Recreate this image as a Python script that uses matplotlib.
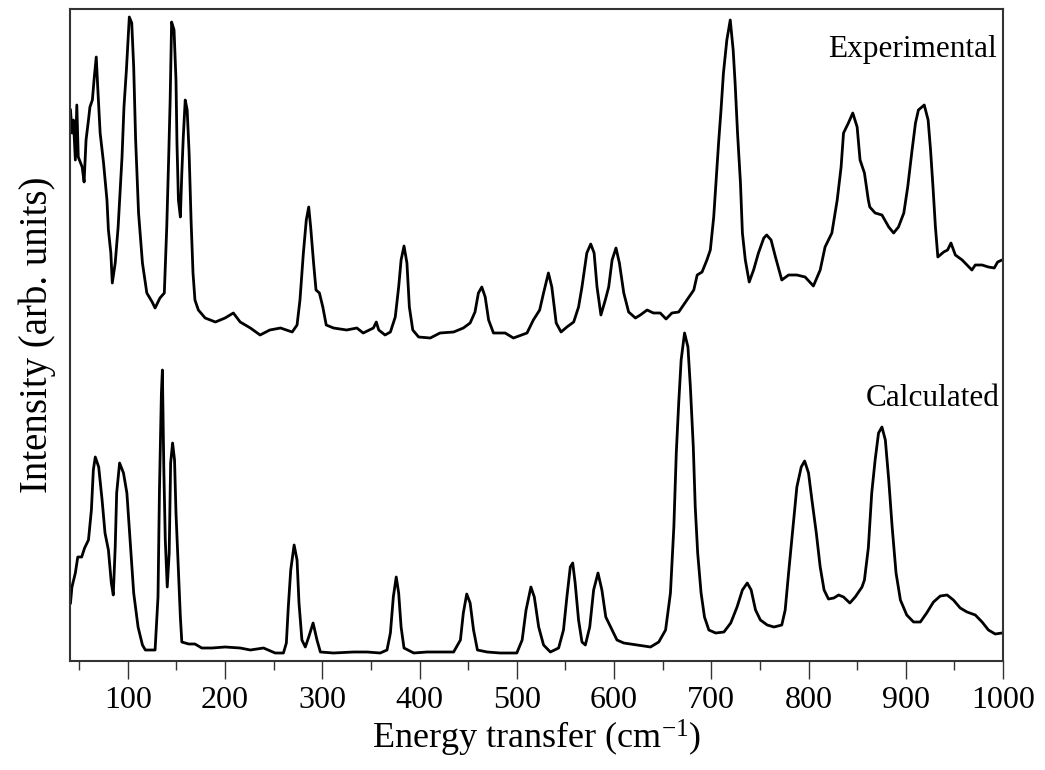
import matplotlib
matplotlib.use("Agg")
import matplotlib.pyplot as plt
from matplotlib.ticker import MultipleLocator, NullLocator

plt.rcParams['font.family'] = ['Liberation Serif', 'DejaVu Serif']
plt.rcParams['mathtext.fontset'] = 'custom'
plt.rcParams['mathtext.rm'] = 'Liberation Serif'
plt.rcParams['mathtext.it'] = 'Liberation Serif:italic'

# Experimental spectrum (energy transfer in cm^-1, intensity in arb. units)
exp_x = [41, 42.6, 44, 46, 47.5, 49, 53, 55, 57, 59.5, 61, 63.5, 65.5, 67.5, 69, 71.5, 75, 78.5, 80,
         82.5, 84, 87, 90, 94, 96, 98.5, 101.5, 104, 106, 108, 111, 115, 119.5, 125, 128, 133, 137.5,
         140, 142, 143.5, 145, 147.5, 149.5, 150.5, 152, 154, 155.5, 157, 159, 161, 163, 165, 167, 169,
         172.5, 179.5, 190, 200, 208.5, 215.5, 226, 236, 246, 257, 269, 274, 277, 280.5, 283.5, 286, 288,
         291, 293.5, 297, 300.5, 304, 311.5, 325, 335.5, 342, 352.5, 355.5, 358, 364.5, 370, 375, 378.5,
         381, 384, 387, 389.5, 393, 399, 411, 421, 435, 445, 452, 457, 460.5, 464, 467.5, 471, 476, 488,
         496.5, 510.5, 517, 523.5, 527.5, 532.5, 536, 540.5, 545.5, 551.5, 558.5, 563.5, 567, 572, 576,
         579.5, 582.5, 586.5, 591, 594.5, 598, 602, 605.5, 610, 615, 622, 627, 634, 640.5, 647.5, 653.5,
         659.5, 666.5, 675, 682, 685.5, 690.5, 695.5, 699, 702.5, 705, 707.5, 710, 712.5, 716, 719.5,
         722.5, 724.5, 727, 730, 732, 735, 739, 743.5, 748.5, 754, 757, 761.5, 766, 772.5, 779.5, 788,
         796.5, 805, 812, 817, 824, 829.5, 833.5, 836, 841, 845.5, 850, 853, 857.5, 861.5, 863, 868.5,
         875.5, 882.5, 887.5, 892.5, 898, 902, 906.5, 910, 913, 919, 923, 925.5, 928, 930.5, 933, 939,
         943, 946.5, 951, 958, 963, 968, 971.5, 978.5, 985, 991, 994.5, 999]
exp_y = [551, 528, 541, 501, 556, 504, 494, 479, 521, 541, 554, 561, 584, 604, 574, 528, 498, 461, 431,
         408, 378, 398, 434, 504, 554, 591, 644, 638, 594, 521, 448, 398, 368, 359, 353, 363, 368,
         434, 504, 561, 639, 631, 581, 518, 461, 444, 488, 524, 561, 551, 508, 441, 388, 361,
         351, 343, 339, 343, 348, 339, 333, 326, 331, 333, 329, 336, 361, 408, 441, 454, 434,
         398, 371, 368, 354, 336, 333, 331, 333, 328, 333, 339, 331, 326, 329, 344, 374,
         401, 415, 398, 354, 331, 324, 323, 328, 329, 333, 338, 349, 368, 374, 364, 341, 328, 328,
         323, 328, 341, 351, 368, 388, 374, 338, 329, 334, 339, 354, 374, 408, 417,
         408, 374, 346, 361, 374, 401, 413, 398, 368, 349, 343, 346, 351, 348, 348, 342,
         348, 349, 361, 371, 386, 389, 401, 411, 444, 481, 518, 551, 588, 621, 641,
         611, 578, 528, 478, 428, 401, 379, 391, 408, 423, 426, 421, 404, 381, 386, 386,
         384, 375, 391, 414, 428, 461, 494, 528, 538, 548, 534, 501, 488, 461, 454, 448,
         446, 434, 428, 434, 448, 474, 511, 538, 551, 556, 541, 511, 474, 434, 404, 409,
         411, 418, 406, 401, 396, 391, 396, 396, 394, 393, 399, 401]

# Calculated spectrum
calc_x = [41, 42.5, 46, 48.5, 52.5, 55.5, 59.5, 62.5, 64.5, 66.5, 70, 73.5, 76.5, 80, 83, 85, 87, 88.5,
          91.5, 95.5, 99, 102.5, 106, 110.5, 115, 118, 128, 131, 132.5, 134.5, 135.5, 137, 138.5, 140.5,
          142.5, 144, 146, 148, 149.5, 152, 154, 155.5, 162.5, 169, 176, 186.5, 200, 215.5, 226, 239.5,
          251.5, 260, 263, 265, 267.5, 271, 274, 276, 279, 282.5, 286, 290.5, 294.5, 298, 311.5, 332,
          346, 359.5, 366.5, 370, 373, 376, 378.5, 381, 384, 394, 407.5, 421, 435, 442, 445, 448.5, 452,
          455.5, 459.5, 469.5, 483, 500, 505.5, 509.5, 514.5, 518, 522.5, 527.5, 534.5, 543, 548, 551.5,
          555, 557.5, 560, 563.5, 567, 570.5, 575, 579, 583.5, 587.5, 591.5, 597, 603, 610, 623.5, 637.5,
          646, 653, 658, 661.5, 664, 666.5, 669, 672.5, 676, 678.5, 681.5, 683.5, 686, 689.5, 693, 697.5,
          704.5, 713, 720, 726.5, 732, 737, 741, 745.5, 750.5, 757.5, 764.5, 772.5, 776, 779.5, 784, 788,
          792.5, 796, 800, 803.5, 808, 812, 816, 820.5, 826, 831, 836, 842.5, 848, 855, 857.5, 861.5,
          865, 868.5, 872, 875.5, 879, 882.5, 886, 890, 894.5, 901, 908, 915, 921.5, 928.5, 935.5, 942.5,
          949, 956, 963, 971.5, 978.5, 985, 992, 999]
calc_y = [58, 74, 88, 104, 104, 113, 121, 151, 191, 204, 194, 161, 128, 111, 78, 66, 114, 168,
          198, 188, 168, 118, 68, 34, 16, 11, 11, 64, 171, 268, 291, 191, 121, 74,
          108, 198, 218, 201, 148, 91, 44, 19, 17, 17, 13, 13, 14, 13, 11, 13,
          8, 8, 18, 54, 91, 116, 101, 58, 21, 14, 24, 38, 21, 9, 8, 9,
          9, 8, 11, 28, 64, 84, 68, 34, 13, 8, 9, 9, 9, 21, 48, 67, 58,
          31, 11, 9, 8, 8, 21, 51, 74, 64, 34, 16, 9, 13, 31, 64,
          94, 98, 78, 41, 19, 16, 34, 71, 88, 71, 44, 33, 21, 18, 16, 14,
          19, 31, 68, 134, 208, 258, 301, 328, 314, 274, 214, 154, 108, 68, 44, 31,
          28, 29, 38, 54, 71, 78, 71, 51, 41, 36, 34, 36, 51, 88, 134, 174,
          194, 200, 188, 161, 128, 94, 71, 62, 63, 66, 64, 58, 64, 74, 81, 113,
          168, 201, 228, 234, 221, 181, 134, 88, 61, 46, 39, 39, 48, 59, 65, 66,
          61, 53, 49, 46, 39, 31, 27, 28]

fig = plt.figure(figsize=(10.45, 7.7), dpi=100)
ax = fig.add_axes([70/1045, 1 - 661/770, 933/1045, 652/770])

ax.plot(exp_x, exp_y, color='black', lw=2.0, solid_joinstyle='round')
ax.plot(calc_x, calc_y, color='black', lw=2.0, solid_joinstyle='round')

ax.set_xlim(40.5, 1000)
ax.set_ylim(0, 652)

ax.xaxis.set_major_locator(MultipleLocator(100))
ax.xaxis.set_minor_locator(MultipleLocator(50))
ax.yaxis.set_major_locator(NullLocator())
ax.yaxis.set_minor_locator(NullLocator())
ax.tick_params(axis='x', which='major', direction='out', length=13, width=1.0,
               labelsize=23, pad=5, color='#333333')
ax.tick_params(axis='x', which='minor', direction='out', length=6.5, width=1.0, color='#333333')
ax.tick_params(axis='x', top=False)

for sp in ax.spines.values():
    sp.set_linewidth(1.5)
    sp.set_color('#333333')

ax.set_xlabel(r'Energy transfer (cm$^{-1}$)', fontsize=26, labelpad=2)
ax.set_ylabel('Intensity (arb. units)', fontsize=28, labelpad=10)

ax.text(994, 612, 'Experimental', fontsize=22.5, ha='right', va='center')
ax.text(997, 262, 'Calculated', fontsize=22.5, ha='right', va='center')

fig.savefig('out.png', dpi=100)
